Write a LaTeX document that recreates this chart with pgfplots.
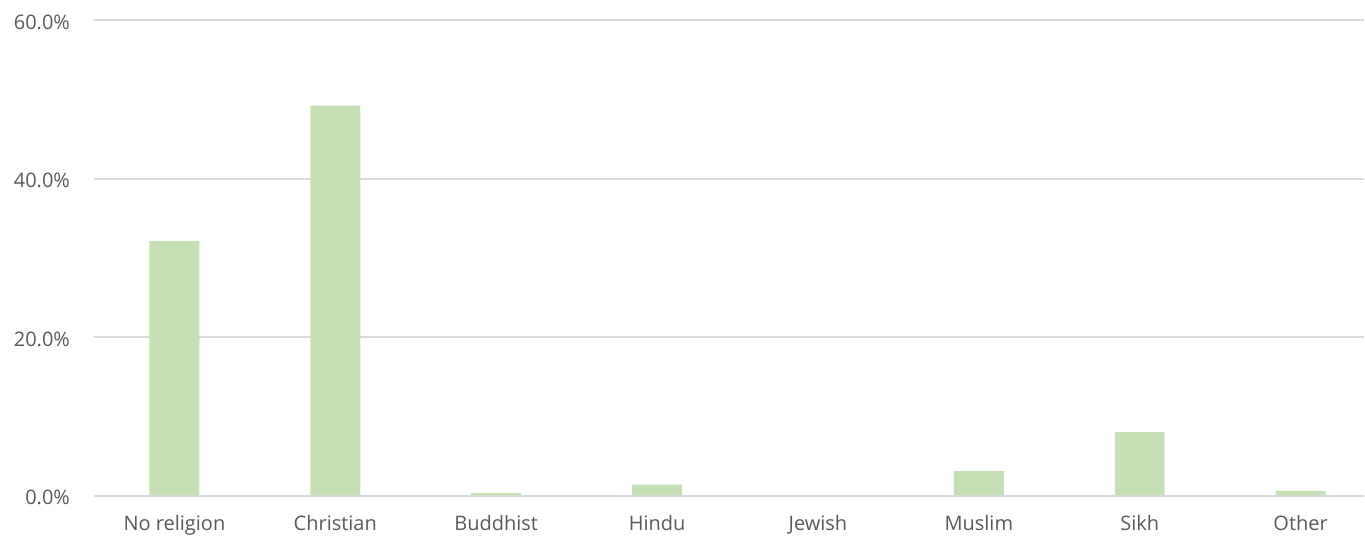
\documentclass[border=0pt]{standalone}
\usepackage{pgfplots}
\pgfplotsset{compat=1.18}
\usepackage{fontspec}
\setmainfont{Open Sans}
\definecolor{barfill}{HTML}{C5E0B4}
\definecolor{textgrey}{HTML}{595959}
\definecolor{gridgrey}{HTML}{D9D9D9}
\begin{document}
\begin{tikzpicture}
\begin{axis}[
    scale only axis,
    width=635.5pt, height=238pt,
    ymin=0, ymax=60,
    xmin=-0.5, xmax=7.394,
    ytick={0,20,40,60},
    yticklabel={\pgfmathprintnumber[fixed,fixed zerofill,precision=1]{\tick}\%},
    xtick={0,...,7},
    xticklabels={No religion,Christian,Buddhist,Hindu,Jewish,Muslim,Sikh,Other},
    ymajorgrids,
    major grid style={gridgrey, line width=1pt},
    axis line style={draw=none},
    axis x line*=bottom,
    axis y line*=left,
    major tick length=0pt,
    tick label style={font=\fontsize{10}{12}\selectfont, text=textgrey},
    /pgf/number format/assume math mode=true,
    yticklabel style={xshift=-8.5pt, yshift=-1pt},
    xticklabel style={yshift=-6.5pt},
    clip=false,
]
\addplot[ybar, bar width=25pt, fill=barfill, draw=none] coordinates {
    (0, 32.1)
    (1, 49.2)
    (2, 0.3)
    (3, 1.4)
    (4, 0.05)
    (5, 3.1)
    (6, 8.0)
    (7, 0.6)
};
\draw[gridgrey, line width=1pt] (axis cs:-0.5,0) -- (axis cs:7.394,0);
\path (axis cs:-1.084,62.52) rectangle (axis cs:7.394,-7.69);
\end{axis}
\end{tikzpicture}
\end{document}
